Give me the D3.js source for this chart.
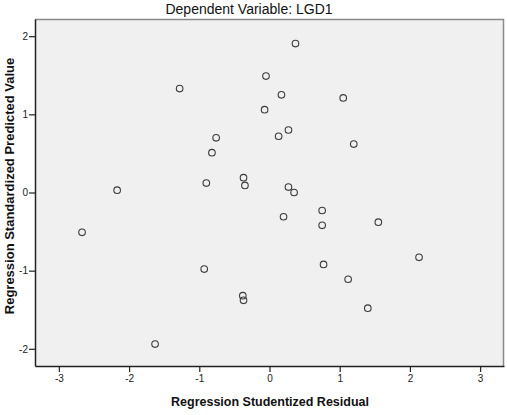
<!DOCTYPE html>
<html>
<head>
<meta charset="utf-8">
<script src="https://cdn.jsdelivr.net/npm/d3@7"></script>
<style>
  body { margin: 0; background: #fff; }
  svg { display: block; font-family: "Liberation Sans", Arial, sans-serif; }
</style>
</head>
<body>
<div id="chart"></div>
<script>
// studentized residual (x) vs standardized predicted value (y)
const residual = [0.37, -0.05, -1.28, 0.17, 1.05, -0.07, 0.27, -0.76, 0.13, 1.20,
  -0.82, -0.37, -0.90, -0.35, -2.17, 0.27, 0.35, 0.75, 0.20, 0.75,
  1.55, -2.67, 2.13, 0.77, -0.93, 1.12, -0.38, -0.37, 1.40, -1.63];
const predicted = [1.905, 1.49, 1.33, 1.25, 1.21, 1.06, 0.80, 0.70, 0.72, 0.62,
  0.51, 0.19, 0.12, 0.09, 0.03, 0.07, 0.00, -0.23, -0.31, -0.42,
  -0.38, -0.51, -0.83, -0.92, -0.98, -1.11, -1.32, -1.38, -1.48, -1.94];
const xTicks = [-3, -2, -1, 0, 1, 2, 3];
const yTicks = [-2, -1, 0, 1, 2];

const points = residual.map((r, i) => ({ x: r, y: predicted[i] }));

const width = 507, height = 415;
const margin = { top: 19, right: 3, bottom: 49, left: 35 };
const innerW = width - margin.left - margin.right;
const innerH = height - margin.top - margin.bottom;

const svg = d3.select('#chart').append('svg')
  .attr('width', width)
  .attr('height', height);

const x = d3.scaleLinear().domain([-3.34, 3.34]).range([0, innerW]);
const y = d3.scaleLinear().domain([-2.22, 2.22]).range([innerH, 0]);

const g = svg.append('g')
  .attr('transform', 'translate(' + margin.left + ',' + margin.top + ')');

// plot background
g.append('rect')
  .attr('width', innerW)
  .attr('height', innerH)
  .attr('fill', '#f0f0f0');

// top/right frame is grey
g.append('path')
  .attr('d', 'M0,0.5H' + (innerW - 0.5) + 'V' + innerH)
  .attr('fill', 'none')
  .attr('stroke', '#8a8a8a')
  .attr('stroke-width', 1.5);

// plain hyphen for negatives, like SPSS
const fmt = d => String(d);

const xAxis = g.append('g')
  .attr('transform', 'translate(0,' + innerH + ')')
  .call(d3.axisBottom(x).tickValues(xTicks).tickFormat(fmt)
    .tickSize(6).tickPadding(3).tickSizeOuter(0));

const yAxis = g.append('g')
  .call(d3.axisLeft(y).tickValues(yTicks).tickFormat(fmt)
    .tickSize(6).tickPadding(1).tickSizeOuter(0));

[xAxis, yAxis].forEach(a => {
  a.select('.domain').attr('stroke', '#222').attr('stroke-width', 1.5);
  a.selectAll('.tick line').attr('stroke', '#222').attr('stroke-width', 1.2);
  a.selectAll('.tick text')
    .attr('fill', '#222')
    .style('font-size', '10px')
    .style('font-family', '"Liberation Sans Narrow", "Liberation Sans", Arial, sans-serif');
});

g.selectAll('.pt')
  .data(points)
  .enter().append('circle')
  .attr('class', 'pt')
  .attr('cx', d => x(d.x))
  .attr('cy', d => y(d.y))
  .attr('r', 3.3)
  .attr('fill', 'none')
  .attr('stroke', '#3a3a3a')
  .attr('stroke-width', 1.1);

svg.append('text')
  .attr('x', 249)
  .attr('y', 14)
  .attr('text-anchor', 'middle')
  .style('font-size', '14px')
  .attr('fill', '#111')
  .text('Dependent Variable: LGD1');

svg.append('text')
  .attr('x', 270)
  .attr('y', 406)
  .attr('text-anchor', 'middle')
  .style('font-size', '12.5px')
  .style('font-weight', 'bold')
  .attr('fill', '#111')
  .text('Regression Studentized Residual');

svg.append('text')
  .attr('transform', 'translate(14,186) rotate(-90)')
  .attr('text-anchor', 'middle')
  .style('font-size', '13px')
  .style('font-weight', 'bold')
  .attr('fill', '#111')
  .text('Regression Standardized Predicted Value');
</script>
</body>
</html>
